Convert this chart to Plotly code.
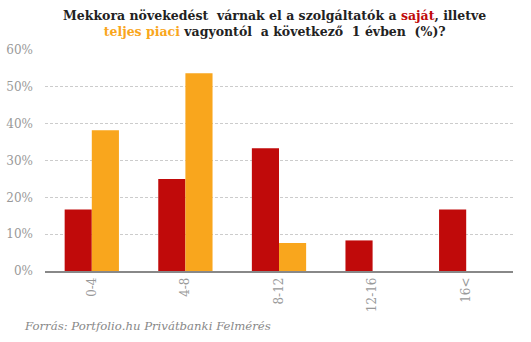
import plotly.graph_objects as go

categories = ["0-4", "4-8", "8-12", "12-16", "16<"]
sajat = [16.7, 25.0, 33.3, 8.3, 16.7]
piaci = [38.2, 53.7, 7.6, None, None]
y_ticks = [0, 10, 20, 30, 40, 50, 60]
y_labels = ["0%", "10%", "20%", "30%", "40%", "50%", "60%"]

RED = "#c00a0a"
ORANGE = "#f9a61d"
FONT = "DejaVu Serif"

fig = go.Figure()
fig.add_trace(go.Bar(x=categories, y=sajat, name="saját", marker_color=RED,
                     marker_line_width=0))
fig.add_trace(go.Bar(x=categories, y=piaci, name="teljes piaci", marker_color=ORANGE,
                     marker_line_width=0))

fig.update_layout(
    width=531, height=342,
    margin=dict(l=45, r=18, t=50, b=71),
    paper_bgcolor="white", plot_bgcolor="white",
    barmode="group", bargap=0.42, bargroupgap=0,
    showlegend=False,
    font=dict(family=FONT, color="#999999", size=12),
    xaxis=dict(
        tickangle=-90, showgrid=False, ticks="", showline=True,
        linecolor="#888888", linewidth=1.5, automargin=False,
        tickfont=dict(family=FONT, size=12, color="#999999"),
    ),
    yaxis=dict(
        range=[0, 60], tickvals=y_ticks, ticktext=y_labels,
        showgrid=True, gridcolor="#cccccc", griddash="3px,2px", gridwidth=1,
        zeroline=False, showline=False, ticks="", ticklabelstandoff=11,
        automargin=False,
        tickfont=dict(family=FONT, size=12, color="#999999"),
    ),
)

fig.add_annotation(
    xref="paper", yref="paper", x=0.49, y=1.0, yshift=44, xanchor="center", yanchor="top",
    showarrow=False, align="center",
    text=("<b>Mekkora növekedést  várnak el a szolgáltatók a "
          f"<span style='color:{RED}'>saját</span>, illetve<br>"
          f"<span style='color:{ORANGE}'>teljes piaci</span> vagyontól  a következő  1 évben  (%)?</b>"),
    font=dict(family=FONT, size=12.5, color="#222222"),
)

fig.add_annotation(
    xref="paper", yref="paper", x=-0.05, y=0, yshift=-46, xanchor="left", yanchor="top",
    showarrow=False, align="left",
    text="<i>Forrás: Portfolio.hu Privátbanki Felmérés</i>",
    font=dict(family=FONT, size=11.7, color="#888888"),
)

fig.write_html("out.html")
